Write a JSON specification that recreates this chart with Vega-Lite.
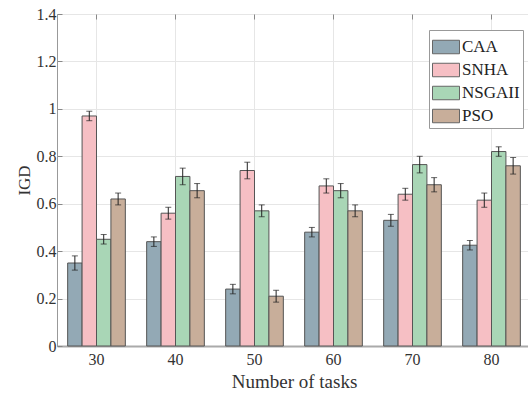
{
  "$schema": "https://vega.github.io/schema/vega-lite/v6.json",
  "autosize": "none",
  "padding": {"left": 57, "top": 14, "right": 0, "bottom": 50},
  "width": 474,
  "height": 332,
  "background": "white",
  "config": {
    "font": "Liberation Serif",
    "view": {"stroke": "#b8b8b8", "strokeWidth": 1},
    "style": {
      "guide-label": {"font": "Liberation Serif"},
      "guide-title": {"font": "Liberation Serif"}
    },
    "legend": {"labelFont": "Liberation Serif", "titleFont": "Liberation Serif"},
    "axis": {"labelFont": "Liberation Serif", "titleFont": "Liberation Serif", "labelColor": "#333", "titleColor": "#333", "titleFontWeight": "normal"}
  },
  "data": {
    "values": [
      {"tasks": "30", "algo": "CAA", "mean": 0.35, "lo": 0.32, "hi": 0.38},
      {"tasks": "30", "algo": "SNHA", "mean": 0.97, "lo": 0.95, "hi": 0.99},
      {"tasks": "30", "algo": "NSGAII", "mean": 0.45, "lo": 0.43, "hi": 0.47},
      {"tasks": "30", "algo": "PSO", "mean": 0.62, "lo": 0.595, "hi": 0.645},
      {"tasks": "40", "algo": "CAA", "mean": 0.44, "lo": 0.42, "hi": 0.46},
      {"tasks": "40", "algo": "SNHA", "mean": 0.56, "lo": 0.535, "hi": 0.585},
      {"tasks": "40", "algo": "NSGAII", "mean": 0.715, "lo": 0.68, "hi": 0.75},
      {"tasks": "40", "algo": "PSO", "mean": 0.655, "lo": 0.625, "hi": 0.685},
      {"tasks": "50", "algo": "CAA", "mean": 0.24, "lo": 0.22, "hi": 0.26},
      {"tasks": "50", "algo": "SNHA", "mean": 0.74, "lo": 0.705, "hi": 0.775},
      {"tasks": "50", "algo": "NSGAII", "mean": 0.57, "lo": 0.545, "hi": 0.595},
      {"tasks": "50", "algo": "PSO", "mean": 0.21, "lo": 0.185, "hi": 0.235},
      {"tasks": "60", "algo": "CAA", "mean": 0.48, "lo": 0.46, "hi": 0.5},
      {"tasks": "60", "algo": "SNHA", "mean": 0.675, "lo": 0.645, "hi": 0.705},
      {"tasks": "60", "algo": "NSGAII", "mean": 0.655, "lo": 0.625, "hi": 0.685},
      {"tasks": "60", "algo": "PSO", "mean": 0.57, "lo": 0.545, "hi": 0.595},
      {"tasks": "70", "algo": "CAA", "mean": 0.53, "lo": 0.505, "hi": 0.555},
      {"tasks": "70", "algo": "SNHA", "mean": 0.64, "lo": 0.615, "hi": 0.665},
      {"tasks": "70", "algo": "NSGAII", "mean": 0.765, "lo": 0.73, "hi": 0.8},
      {"tasks": "70", "algo": "PSO", "mean": 0.68, "lo": 0.65, "hi": 0.71},
      {"tasks": "80", "algo": "CAA", "mean": 0.425, "lo": 0.405, "hi": 0.445},
      {"tasks": "80", "algo": "SNHA", "mean": 0.615, "lo": 0.585, "hi": 0.645},
      {"tasks": "80", "algo": "NSGAII", "mean": 0.82, "lo": 0.8, "hi": 0.84},
      {"tasks": "80", "algo": "PSO", "mean": 0.76, "lo": 0.725, "hi": 0.795}
    ]
  },
  "encoding": {
    "xOffset": {"field": "algo", "type": "nominal", "sort": ["CAA", "SNHA", "NSGAII", "PSO"], "scale": {"paddingInner": 0, "paddingOuter": 0}}
  },
  "layer": [
    {
      "mark": {"type": "bar", "stroke": "#555", "strokeWidth": 1, "opacity": 1},
      "encoding": {
        "x": {
          "field": "tasks", "type": "nominal",
          "scale": {"paddingInner": 0.27, "paddingOuter": 0.135},
          "axis": {"title": "Number of tasks", "orient": "bottom", "labelAngle": 0, "labelFont": "Liberation Serif", "titleFont": "Liberation Serif", "labelFontSize": 16, "titleFontSize": 19, "labelPadding": 5, "titlePadding": 5, "ticks": false, "domainColor": "#aaaaaa", "domainWidth": 2, "grid": true, "gridColor": "#e6e6e6"}
        },
        "y": {"field": "mean", "type": "quantitative", "scale": {"domain": [0, 1.4], "nice": false},
          "axis": {"title": "IGD", "values": [0, 0.2, 0.4, 0.6, 0.8, 1, 1.2, 1.4], "format": "~g", "labelFont": "Liberation Serif", "titleFont": "Liberation Serif", "labelFontSize": 16, "titleFontSize": 17, "titlePadding": 3, "ticks": true, "tickSize": -5, "tickColor": "#888", "domainColor": "#999", "gridColor": "#e6e6e6", "labelPadding": 6}},
        "fill": {"field": "algo", "type": "nominal", "sort": ["CAA", "SNHA", "NSGAII", "PSO"],
          "scale": {"domain": ["CAA", "SNHA", "NSGAII", "PSO"], "range": ["#93a9b5", "#f6bfc4", "#a9d6b6", "#c8ae9a"]},
          "legend": {"title": null, "orient": "none", "legendX": 372, "legendY": 16, "labelFontSize": 17, "labelFont": "Liberation Serif", "labelColor": "#222", "symbolType": "M-1,-0.5H1V0.5H-1Z", "symbolSize": 729, "symbolStrokeColor": "#666", "symbolStrokeWidth": 1, "symbolOpacity": 1, "strokeColor": "#999", "fillColor": "white", "padding": 3, "rowPadding": -8, "labelOffset": 2, "symbolOffset": 0}}
      }
    },
    {
      "mark": {"type": "rule", "color": "#222", "strokeWidth": 1},
      "encoding": {
        "x": {"field": "tasks", "type": "nominal",
          "axis": {"orient": "top", "title": null, "labels": false, "domain": false, "grid": false, "ticks": true, "tickSize": -5, "tickColor": "#888"}},
        "y": {"field": "lo", "type": "quantitative"}, "y2": {"field": "hi"}}
    },
    {
      "mark": {"type": "tick", "color": "#222", "thickness": 1, "size": 6},
      "encoding": {"x": {"field": "tasks", "type": "nominal", "axis": null}, "y": {"field": "lo", "type": "quantitative"}}
    },
    {
      "mark": {"type": "tick", "color": "#222", "thickness": 1, "size": 6},
      "encoding": {"x": {"field": "tasks", "type": "nominal", "axis": null}, "y": {"field": "hi", "type": "quantitative"}}
    }
  ]
}
